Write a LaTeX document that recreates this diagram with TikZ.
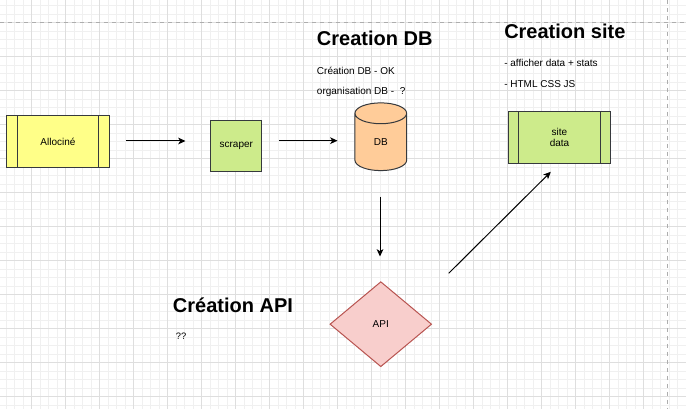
\documentclass[tikz,border=0pt]{standalone}
\usepackage{fontspec}
\setmainfont{Liberation Sans}
\usetikzlibrary{arrows.meta,shapes.geometric}
\definecolor{edg}{HTML}{36393D}
\definecolor{yel}{HTML}{FFFF88}
\definecolor{grn}{HTML}{CDEB8B}
\definecolor{org}{HTML}{FFCC99}
\definecolor{pnk}{HTML}{F8CECC}
\definecolor{rdb}{HTML}{B85450}
\begin{document}
\begin{tikzpicture}[x=0.75pt,y=-0.75pt,
		mi/.style={draw=black!6,line width=0.75pt},ma/.style={draw=black!13,line width=0.75pt},
		pg/.style={draw=black!32,dashed,dash pattern=on 3pt off 3pt,line width=0.75pt},
		pb/.style={draw=edg,fill=#1,rectangle,minimum width=76.7pt,minimum
					height=38.6pt,inner sep=0pt,line width=0.75pt,align=center,font=\fontsize{7.5}{8.7}\selectfont,
					path picture={\draw[edg,line width=0.75pt]
								([xshift=7.7pt]path picture bounding box.north west) --
								([xshift=7.7pt]path picture bounding box.south west)
								([xshift=-7.7pt]path picture bounding box.north east) --
								([xshift=-7.7pt]path picture bounding box.south east);}},
		hd/.style={anchor=west,inner sep=0pt,font=\fontsize{15}{18}\selectfont\bfseries},
		tx/.style={anchor=west,inner sep=0pt,font=\fontsize{7.5}{9}\selectfont},
		arr/.style={-{Stealth[length=5.5pt,width=5pt,inset=1.5pt]},line width=0.75pt}]
		\useasboundingbox[fill=white] (0,0) rectangle (686,409);
		% grid
		\foreach \i in {0,...,80} {\draw[mi] ({6.2+8.5*\i},0) -- ++(0,409);}
		\foreach \j in {0,...,47} {\draw[mi] (0,{5.7+8.5*\j}) -- ++(686,0);}
		\foreach \i in {0,...,19} {\draw[ma] ({-2.3+34*\i},0) -- ++(0,409);}
		\foreach \j in {0,...,11} {\draw[ma] (0,{22.7+34*\j}) -- ++(686,0);}
		\draw[pg] (667.3,0) -- (667.3,409);
		\draw[pg] (0,22.3) -- (686,22.3);
		% shapes
		\node[pb=yel] (al) at (57.9,141.7) {Allociné};
		\node[draw=edg,fill=grn,rectangle,minimum size=38.4pt,inner sep=0pt,line width=0.75pt,
			font=\fontsize{7.5}{9}\selectfont] (sc) at (236.3,145.9) {scraper};
		\node[draw=edg,fill=org,cylinder,shape border rotate=90,aspect=1.5,minimum
			width=38.8pt,minimum height=50.8pt,inner sep=0pt,line width=0.75pt,
			font=\fontsize{7.5}{9}\selectfont] (db) at (380.8,142.2) {DB};
		\node[pb=grn] (sd) at (559.5,137.5) {site\\data};
		\node[draw=rdb,fill=pnk,diamond,minimum width=76.3pt,minimum height=63.8pt,inner
			sep=0pt,line width=0.75pt,font=\fontsize{7.5}{9}\selectfont] (api) at (380.8,324.2) {API};
		% texts
		\node[hd] (tdb) at (316.7,38.3) {Creation DB};
		\node[tx] (tdb1) at (316.7,70.7) {Création DB - OK};
		\node[tx] (tdb2) at (316.7,92.3) {organisation DB -~~?};
		\node[hd] (tsi) at (504,31.7) {Creation site};
		\node[tx] (tsi1) at (504,62.7) {- afficher data + stats};
		\node[tx] (tsi2) at (504,84.3) {- HTML CSS JS};
		\node[hd] (tap) at (172.7,305) {Création API};
		\node[tx,font=\fontsize{7}{8}\selectfont] (tap1) at (175.7,336.7) {??};
		% arrows
		\coordinate (a1s) at (126,141);
		\coordinate (a1e) at (185.5,141);
		\coordinate (a2s) at (279,140.7);
		\coordinate (a2e) at (337.5,140.7);
		\coordinate (a3s) at (380,196.7);
		\coordinate (a3e) at (380,256.5);
		\coordinate (a4s) at (448.7,273.3);
		\coordinate (a4e) at (550.8,171.8);
		\draw[arr] (a1s) -- (a1e);
		\draw[arr] (a2s) -- (a2e);
		\draw[arr] (a3s) -- (a3e);
		\draw[arr] (a4s) -- (a4e);
	\end{tikzpicture}
\end{document}
